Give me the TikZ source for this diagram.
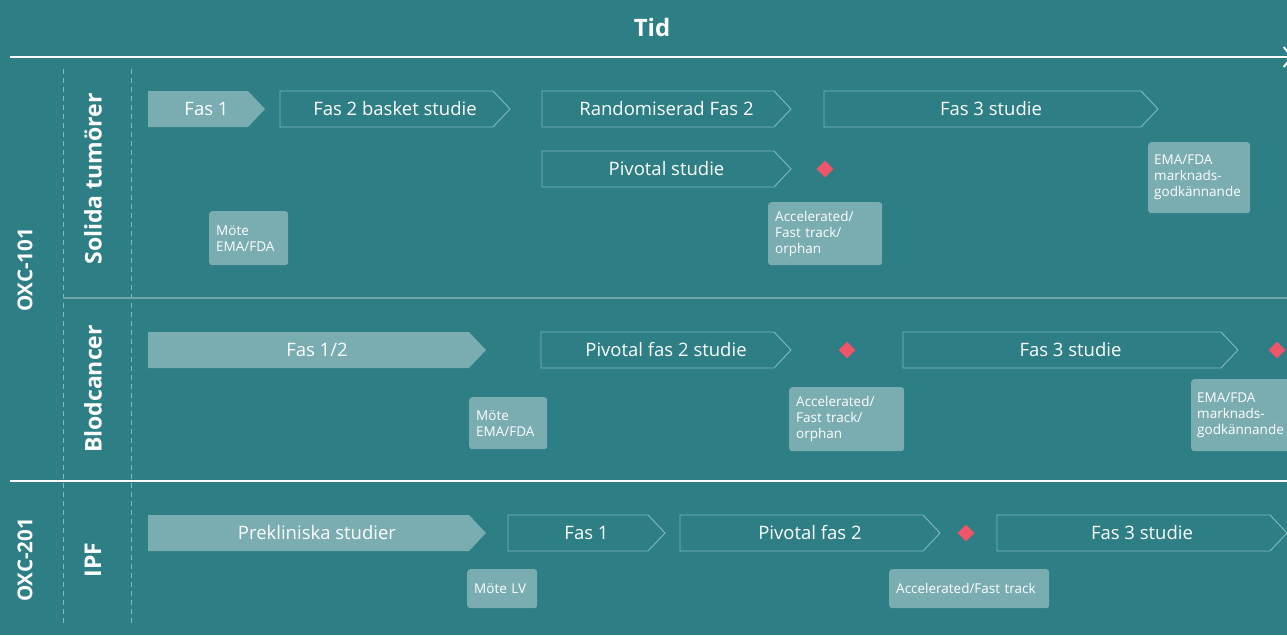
\documentclass[tikz,border=0pt]{standalone}
\usepackage{fontspec}
\setmainfont{Open Sans}
\usetikzlibrary{shapes.geometric, arrows.meta}

\definecolor{bgteal}{RGB}{45,126,133}
\definecolor{lightteal}{RGB}{121,173,178}
\definecolor{edgeteal}{RGB}{132,185,189}
\definecolor{septeal}{RGB}{110,166,171}
\definecolor{milered}{RGB}{236,86,104}

\tikzset{
  fasfill/.style={fill=lightteal},
  fasline/.style={draw=edgeteal, line width=0.9pt},
  fastext/.style={text=white, font=\fontsize{18.5}{21}\selectfont, inner sep=0pt},
  infobox/.style={fill=lightteal, rounded corners=3pt, anchor=north west, text=white,
    align=left, inner xsep=7pt, inner ysep=4pt, font=\fontsize{13.5}{16}\selectfont},
  milestone/.style={diamond, fill=milered, minimum size=17pt, inner sep=0pt},
  lanetext/.style={rotate=90, text=white, font=\bfseries\fontsize{23}{26}\selectfont},
  drugtext/.style={rotate=90, text=white, font=\bfseries\fontsize{20.5}{24}\selectfont},
  axisline/.style={draw=white, line width=2.2pt},
  gridline/.style={draw=edgeteal, line width=0.8pt, dash pattern=on 5pt off 4pt},
}

% phase chevron: style, name, left x, tip x, centre y, text
\newcommand{\fasbox}[6]{%
  \path[#1] (#3,#5-18) -- (#4-17,#5-18) -- (#4,#5) -- (#4-17,#5+18) -- (#3,#5+18) -- cycle;
  \node[fastext] (#2) at ({(#3+#4)/2},#5) {#6};}

\begin{document}
\begin{tikzpicture}[x=1pt, y=-1pt]
  \useasboundingbox[fill=bgteal] (0,0) rectangle (1287,635);

  % time axis
  \node[text=white, font=\bfseries\fontsize{24}{26}\selectfont] (tid) at (652,27) {Tid};
  \coordinate (axl) at (10,57);
  \coordinate (axr) at (1293,57);
  \draw[axisline, -{Straight Barb[length=8pt, width=20pt, line width=2pt]}] (axl) -- (axr);

  % lanes
  \coordinate (dasha) at (63,69);  \coordinate (dashb) at (63,625);
  \coordinate (dashc) at (131,69); \coordinate (dashd) at (131,625);
  \draw[gridline] (dasha) -- (dashb);
  \draw[gridline] (dashc) -- (dashd);
  \coordinate (sepa) at (63,298);  \coordinate (sepb) at (1287,298);
  \draw[draw=septeal, line width=1.2pt] (sepa) -- (sepb);
  \coordinate (sepc) at (10,481);  \coordinate (sepd) at (1287,481);
  \draw[axisline, line width=2.5pt] (sepc) -- (sepd);

  \node[drugtext] (oxca) at (25,270) {OXC-101};
  \node[drugtext] (oxcb) at (25,560) {OXC-201};
  \node[lanetext] (solid) at (93,179) {Solida tumörer};
  \node[lanetext] (blod) at (93,389) {Blodcancer};
  \node[lanetext] (ipf) at (93,560) {IPF};

  % solida tumörer
  \fasbox{fasfill}{sta}{148}{265}{109}{Fas 1}
  \fasbox{fasline}{stb}{280}{510}{109}{Fas 2 basket studie}
  \fasbox{fasline}{stc}{542}{791}{109}{Randomiserad Fas 2}
  \fasbox{fasline}{std}{824}{1158}{109}{Fas 3 studie}
  \fasbox{fasline}{ste}{542}{791}{169}{Pivotal studie}
  \node[milestone] (stm) at (825,169) {};
  \node[infobox, minimum width=79pt, text width=65pt, minimum height=54pt] (stmote) at (209,211) {Möte\\EMA/FDA};
  \node[infobox, minimum width=114pt, text width=100pt, minimum height=63pt] (stacc) at (768,202) {Accelerated/\\Fast track/\\orphan};
  \node[infobox, minimum width=102pt, text width=90pt, minimum height=71pt, inner xsep=6pt] (stema) at (1148,142) {EMA/FDA\\marknads-\\godkännande};

  % blodcancer
  \fasbox{fasfill}{bca}{148}{486}{350}{Fas 1/2}
  \fasbox{fasline}{bcb}{541}{791}{350}{Pivotal fas 2 studie}
  \fasbox{fasline}{bcc}{903}{1238}{350}{Fas 3 studie}
  \node[milestone] (bcm) at (847,350) {};
  \node[milestone] (bcn) at (1277,350) {};
  \node[infobox, minimum width=78pt, text width=64pt, minimum height=52pt] (bcmote) at (469,397) {Möte\\EMA/FDA};
  \node[infobox, minimum width=115pt, text width=101pt, minimum height=64pt] (bcacc) at (789,387) {Accelerated/\\Fast track/\\orphan};
  \node[infobox, minimum width=102pt, text width=90pt, minimum height=72pt, inner xsep=6pt] (bcema) at (1191,379) {EMA/FDA\\marknads-\\godkännande};

  % IPF
  \fasbox{fasfill}{ipa}{148}{486}{533}{Prekliniska studier}
  \fasbox{fasline}{ipb}{508}{665}{533}{Fas 1}
  \fasbox{fasline}{ipc}{680}{940}{533}{Pivotal fas 2}
  \fasbox{fasline}{ipd}{997}{1287}{533}{Fas 3 studie}
  \node[milestone] (ipm) at (966,533) {};
  \node[infobox, minimum width=70pt, text width=56pt, minimum height=39pt] (ipmote) at (467,569) {Möte LV};
  \node[infobox, minimum width=160pt, text width=146pt, minimum height=39pt] (ipacc) at (889,569) {Accelerated/Fast track};
\end{tikzpicture}
\end{document}
